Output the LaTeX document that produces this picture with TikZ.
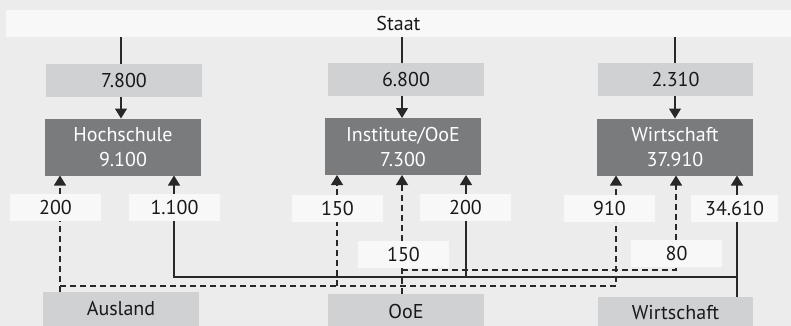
\documentclass[tikz,border=0pt]{standalone}
\usepackage{fontspec}
\setmainfont{PT Sans}
\usetikzlibrary{arrows.meta}
\definecolor{bgc}{RGB}{236,236,236}
\definecolor{lightc}{RGB}{248,248,248}
\definecolor{midc}{RGB}{208,209,211}
\definecolor{darkc}{RGB}{122,123,125}
\definecolor{linec}{RGB}{40,40,40}
\definecolor{textc}{RGB}{25,25,25}
\begin{document}
\begin{tikzpicture}[x=1pt,y=-1pt,
  every node/.style={inner sep=0pt,outer sep=0pt,font=\fontsize{20}{25}\selectfont,text=textc},
  valbox/.style={fill=midc,minimum width=156pt,minimum height=33pt},
  darkbox/.style={fill=darkc,minimum width=156pt,minimum height=57pt,text=white,align=center},
  lblbox/.style={fill=lightc,minimum width=91pt,minimum height=27pt},
  srcbox/.style={fill=midc,minimum width=156pt,minimum height=34pt},
  conn/.style={draw=linec,line width=1.2pt},
  dconn/.style={conn,dash pattern=on 6pt off 4pt},
  arr/.style={-{Triangle[width=12pt,length=10pt]}}
]
\fill[bgc] (0,0) rectangle (791,326);
\useasboundingbox (0,0) rectangle (791,326);
% top
\node[fill=lightc,minimum width=785pt,minimum height=27pt] (staat) at (398.5,23.5) {Staat};
\node[valbox] (v1) at (124,80.5) {7.800};
\node[valbox] (v2) at (406,79.5) {6.800};
\node[valbox,minimum width=155pt] (v3) at (675.5,79.5) {2.310};
\node[darkbox] (h) at (123,147) {Hochschule\\9.100};
\node[darkbox] (i) at (403,146.5) {Institute/OoE\\7.300};
\node[darkbox] (w) at (675,147) {Wirtschaft\\37.910};
% labels
\node[lblbox] (l1) at (55.5,207.5) {200};
\node[lblbox] (l2) at (174.5,207.5) {1.100};
\node[lblbox] (l3) at (337.5,208.5) {150};
\node[lblbox] (l4) at (465.5,207.5) {200};
\node[lblbox] (l5) at (609.5,208.5) {910};
\node[lblbox,minimum width=87pt] (l6) at (734.5,208) {34.610};
\node[lblbox] (l7) at (403.5,254.5) {150};
\node[lblbox] (l8) at (676.5,253.5) {80};
% sources
\node[srcbox] (a) at (121,309) {Ausland};
\node[srcbox] (o) at (406,311) {OoE};
\node[srcbox,minimum width=155pt,minimum height=32pt] (ws) at (675.5,313) {Wirtschaft};
% x positions of the lines
\coordinate (xs1) at (121,0);
\coordinate (xs2) at (402,0);
\coordinate (xs3) at (675,0);
\coordinate (xa) at (60,0);
\coordinate (xb) at (174,0);
\coordinate (xc) at (337,0);
\coordinate (xd) at (402,0);
\coordinate (xe) at (466,0);
\coordinate (xf) at (616,0);
\coordinate (xg) at (676,0);
\coordinate (xh) at (737,0);
\coordinate (yA) at (0,286);
\coordinate (yW) at (0,277);
\coordinate (yO) at (0,270);
% Staat
\draw[conn] (staat.south -| xs1) -- (v1.north -| xs1);
\draw[conn] (staat.south -| xs2) -- (v2.north -| xs2);
\draw[conn] (staat.south -| xs3) -- (v3.north -| xs3);
\draw[conn,arr] (v1.south -| xs1) -- (h.north -| xs1);
\draw[conn,arr] (v2.south -| xs2) -- (i.north -| xs2);
\draw[conn,arr] (v3.south -| xs3) -- (w.north -| xs3);
% Ausland (dashed)
\draw[dconn] (a.north -| xa) -- (l1.south -| xa);
\draw[dconn] (xa |- yA) -- (xf |- yA) -- (l5.south -| xf);
\draw[dconn] (xc |- yA) -- (l3.south -| xc);
\draw[dconn,arr] (l1.north -| xa) -- (h.south -| xa);
\draw[dconn,arr] (l3.north -| xc) -- (i.south -| xc);
\draw[dconn,arr] (l5.north -| xf) -- (w.south -| xf);
% Wirtschaft (solid)
\draw[conn] (ws.north -| xh) -- (l6.south -| xh);
\draw[conn] (l2.south -| xb) -- (xb |- yW) -- (xh |- yW);
\draw[conn] (xe |- yW) -- (l4.south -| xe);
\draw[conn,arr] (l2.north -| xb) -- (h.south -| xb);
\draw[conn,arr] (l4.north -| xe) -- (i.south -| xe);
\draw[conn,arr] (l6.north -| xh) -- (w.south -| xh);
% OoE (dashed)
\draw[dconn] (o.north -| xd) -- (l7.south -| xd);
\draw[dconn] (xd |- yO) -- (xg |- yO) -- (l8.south -| xg);
\draw[dconn,arr] (l7.north -| xd) -- (i.south -| xd);
\draw[dconn,arr] (l8.north -| xg) -- (w.south -| xg);
\end{tikzpicture}
\end{document}
